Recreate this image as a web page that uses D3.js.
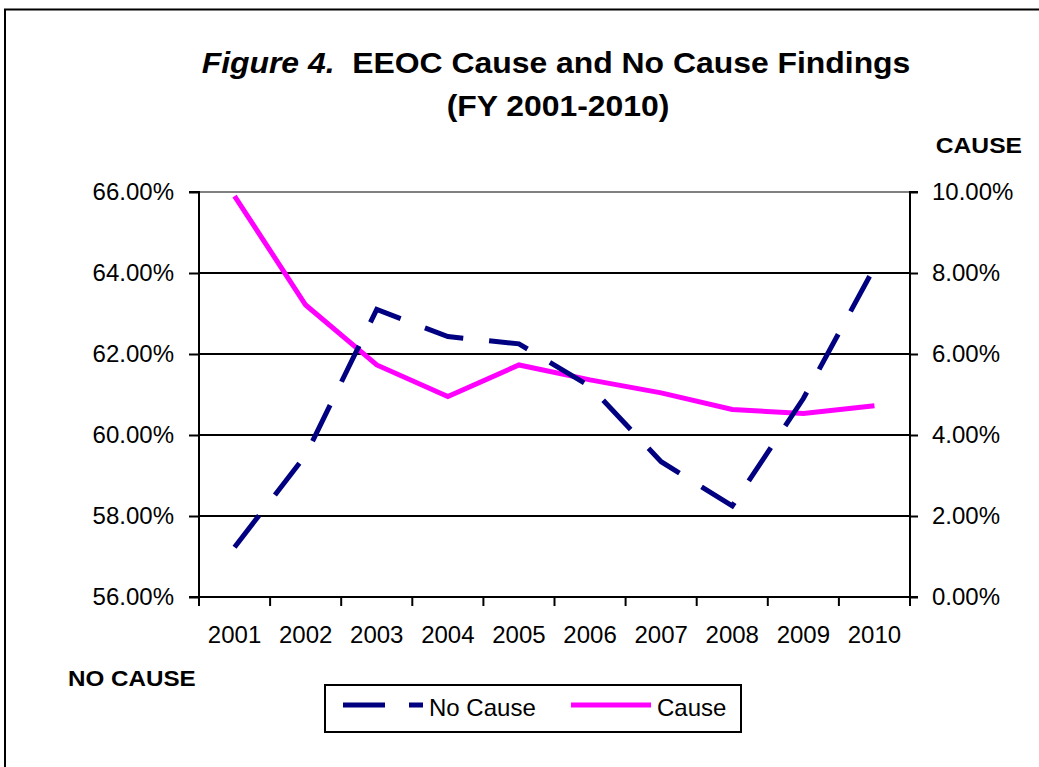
<!DOCTYPE html>
<html><head><meta charset="utf-8">
<script src="https://cdn.jsdelivr.net/npm/d3@7"></script>
<style>body{margin:0;background:#fff}svg{display:block}text{font-family:"Liberation Sans",Arial,sans-serif}</style>
</head><body>
<svg id="c" width="1039" height="767"></svg>
<script>
const years = ["2001","2002","2003","2004","2005","2006","2007","2008","2009","2010"];
const noCause = [57.23, 59.5, 63.1, 62.43, 62.25, 61.2, 59.34, 58.25, 60.9, 64.14];
const cause = [9.9, 7.21, 5.73, 4.95, 5.73, 5.36, 5.04, 4.63, 4.53, 4.72];
const leftTicks = [56, 58, 60, 62, 64, 66];
const rightTicks = [0, 2, 4, 6, 8, 10];

const svg = d3.select("#c");
const L = 199, R = 910, T = 192, B = 597;
const FONT = '"Liberation Sans",Arial,sans-serif';

svg.append("rect").attr("x",5).attr("y",9.5).attr("width",1100).attr("height",1000)
  .attr("fill","none").attr("stroke","#000").attr("stroke-width",2);

const x = d3.scaleBand().domain(years).range([L, R]);
const yL = d3.scaleLinear().domain([56, 66]).range([B, T]);
const yR = d3.scaleLinear().domain([0, 10]).range([B, T]);

// gridlines
svg.append("g").selectAll("line").data(leftTicks.filter(d => d > 56)).join("line")
  .attr("x1", L).attr("x2", R).attr("y1", d => yL(d)).attr("y2", d => yL(d))
  .attr("stroke", d => d === 66 ? "#808080" : "#000").attr("stroke-width", 2);

// left axis
const gl = svg.append("g").attr("transform", `translate(${L},0)`)
  .call(d3.axisLeft(yL).tickValues(leftTicks).tickFormat(d => d.toFixed(2) + "%").tickSize(10).tickPadding(15));
// right axis
const gr = svg.append("g").attr("transform", `translate(${R},0)`)
  .call(d3.axisRight(yR).tickValues(rightTicks).tickFormat(d => d.toFixed(2) + "%").tickSize(8).tickPadding(14));
// bottom axis
const gb = svg.append("g").attr("transform", `translate(0,${B})`)
  .call(d3.axisBottom(x).tickSize(0).tickPadding(29));
gb.append("g").selectAll("line").data(d3.range(years.length + 1)).join("line")
  .attr("x1", i => L + i * x.step()).attr("x2", i => L + i * x.step())
  .attr("y1", 0).attr("y2", 9).attr("stroke", "#000").attr("stroke-width", 2);

[gl, gr, gb].forEach(g => {
  g.select(".domain").attr("stroke", "#000").attr("stroke-width", 2);
  g.selectAll(".tick line").attr("stroke", "#000").attr("stroke-width", 2);
  g.selectAll("text").attr("font-size", 24).attr("fill", "#000").attr("font-family", FONT);
});
gl.select(".domain").attr("d", `M-10,${T}H0V${B}H-10`);
gr.select(".domain").attr("d", `M8,${T}H0V${B}H8`);
gb.select(".domain").attr("d", `M${L},0H${R}`);

const cx = d => x(d) + x.bandwidth() / 2;

svg.append("path").datum(cause)
  .attr("d", d3.line().x((d, i) => cx(years[i])).y(d => yR(d)))
  .attr("fill", "none").attr("stroke", "#FF00FF").attr("stroke-width", 5);
svg.append("path").datum(noCause)
  .attr("d", d3.line().x((d, i) => cx(years[i])).y(d => yL(d)))
  .attr("fill", "none").attr("stroke", "#000080").attr("stroke-width", 5)
  .attr("stroke-dasharray", "40,26");

// stretched bold text helper
function boldText(px, py, anchor, size, sx) {
  return svg.append("g").attr("transform", `translate(${px},${py}) scale(${sx},1)`)
    .append("text").attr("x", 0).attr("y", 0).attr("text-anchor", anchor)
    .attr("font-size", size).attr("font-weight", "bold").attr("font-family", FONT);
}
const t1 = boldText(556, 73, "middle", 29, 1.1);
t1.append("tspan").attr("font-style", "italic").text("Figure 4.");
t1.append("tspan").text("\u00a0 EEOC Cause and No Cause Findings");
boldText(558, 116, "middle", 29, 1.1).text("(FY 2001-2010)");
boldText(1022, 153, "end", 22, 1.12).text("CAUSE");
boldText(68, 686, "start", 22, 1.1).text("NO CAUSE");

// legend
const lg = svg.append("g");
lg.append("rect").attr("x", 325).attr("y", 685).attr("width", 416).attr("height", 47)
  .attr("fill", "#fff").attr("stroke", "#000").attr("stroke-width", 2);
lg.append("line").attr("x1", 343).attr("x2", 423).attr("y1", 705).attr("y2", 705)
  .attr("stroke", "#000080").attr("stroke-width", 5).attr("stroke-dasharray", "42,24");
lg.append("text").attr("x", 429).attr("y", 716).attr("font-size", 24).text("No Cause");
lg.append("line").attr("x1", 571).attr("x2", 651).attr("y1", 705).attr("y2", 705)
  .attr("stroke", "#FF00FF").attr("stroke-width", 5);
lg.append("text").attr("x", 657).attr("y", 716).attr("font-size", 24).text("Cause");
</script>
</body></html>
